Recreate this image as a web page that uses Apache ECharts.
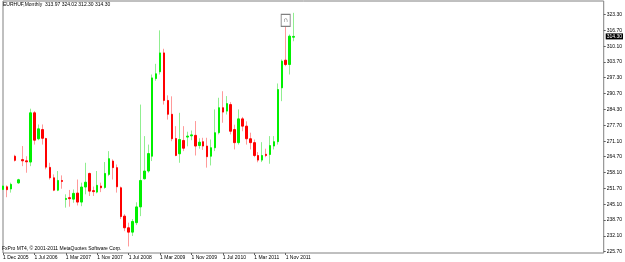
<!DOCTYPE html>
<html>
<head>
<meta charset="utf-8">
<script src="https://cdn.jsdelivr.net/npm/echarts@6/dist/echarts.min.js"></script>
<style>
html,body{margin:0;padding:0;background:#fff;}
#chart{width:625px;height:262px;}
</style>
</head>
<body>
<div id="chart"></div>
<script>
const symbolName = "EURHUF";
const periodName = "Monthly";
const copyrightText = "FxPro MT4, \u00a9 2001-2011 MetaQuotes Software Corp.";
const months = ["Nov 2005","Dec 2005","Jan 2006","Feb 2006","Mar 2006","Apr 2006","May 2006","Jun 2006","Jul 2006","Aug 2006",
"Sep 2006","Oct 2006","Nov 2006","Dec 2006","Jan 2007","Feb 2007","Mar 2007","Apr 2007","May 2007","Jun 2007",
"Jul 2007","Aug 2007","Sep 2007","Oct 2007","Nov 2007","Dec 2007","Jan 2008","Feb 2008","Mar 2008","Apr 2008",
"May 2008","Jun 2008","Jul 2008","Aug 2008","Sep 2008","Oct 2008","Nov 2008","Dec 2008","Jan 2009","Feb 2009",
"Mar 2009","Apr 2009","May 2009","Jun 2009","Jul 2009","Aug 2009","Sep 2009","Oct 2009","Nov 2009","Dec 2009",
"Jan 2010","Feb 2010","Mar 2010","Apr 2010","May 2010","Jun 2010","Jul 2010","Aug 2010","Sep 2010","Oct 2010",
"Nov 2010","Dec 2010","Jan 2011","Feb 2011","Mar 2011","Apr 2011","May 2011","Jun 2011","Jul 2011","Aug 2011",
"Sep 2011","Oct 2011","Nov 2011","Dec 2011","Jan 2012"];
const openP = [251.2,252.3,251.4,264.9,253.9,263.5,263.0,262.5,282.8,272.1,
275.9,272.2,260.3,256.0,250.9,254.9,247.1,247.8,247.2,249.7,
246.0,252.2,257.8,250.7,250.1,252.6,252.0,257.4,262.9,260.2,
251.9,240.2,235.4,233.6,237.5,244.0,255.6,258.8,264.9,296.9,
299.7,307.5,287.9,282.2,272.2,265.9,271.4,272.8,273.3,273.5,
269.3,270.9,269.1,264.9,268.4,274.6,284.9,283.5,286.2,275.9,
270.5,280.3,277.3,272.1,270.5,265.2,263.3,265.7,265.6,269.1,
270.9,293.1,304.5,302.7,313.97];
const highP = [253.1,252.9,254.0,265.5,255.6,269.1,264.9,284.5,283.5,278.0,
278.0,272.5,262.2,257.4,258.8,257.0,249.2,251.0,251.2,255.3,
254.0,262.2,258.1,252.4,258.8,254.0,262.5,267.0,263.6,261.5,
252.4,241.0,237.5,239.0,245.9,286.2,273.2,269.7,298.6,303.0,
316.8,309.2,290.0,289.6,277.3,282.8,277.3,275.0,275.5,279.4,
272.3,272.5,272.5,271.8,284.2,289.0,291.7,289.7,287.2,277.9,
284.2,281.1,279.3,274.6,271.8,266.6,270.7,268.0,273.2,273.2,
294.9,304.8,319.2,315.1,324.02];
const lowP = [250.9,248.0,249.9,262.7,253.5,260.8,258.1,260.8,269.7,271.5,
269.7,259.5,255.3,250.5,250.5,251.5,243.7,244.1,245.7,244.6,
244.3,249.2,248.5,248.5,249.6,250.1,251.5,256.7,255.3,249.9,
239.0,234.0,227.7,232.0,236.5,240.2,255.3,258.1,262.9,296.0,
298.6,286.2,280.0,271.1,264.9,262.2,267.0,269.0,271.5,265.2,
268.0,267.5,260.2,261.1,267.0,273.9,278.7,282.1,273.9,267.7,
269.7,275.2,269.7,267.7,264.5,262.4,262.5,264.5,261.8,267.7,
269.7,287.6,302.0,298.6,312.30];
const closeP = [252.6,251.1,253.3,263.2,255.2,263.0,262.6,282.8,271.5,276.2,
272.3,260.4,256.0,250.9,254.9,254.5,247.5,247.4,249.6,246.0,
252.2,254.2,250.5,250.3,252.9,251.9,257.8,263.9,260.2,252.3,
240.0,235.4,233.6,238.0,244.0,254.9,258.8,266.0,297.2,298.9,
307.5,287.9,282.2,272.1,265.2,271.8,268.2,273.2,273.7,269.1,
270.7,269.1,264.7,268.4,274.6,284.9,283.1,286.6,275.2,270.5,
280.3,277.3,272.1,270.5,265.2,263.3,265.2,265.2,269.3,270.9,
292.4,304.1,302.7,314.4,314.30];
const xTickLabels = ["1 Dec 2005","1 Jul 2006","1 Mar 2007","1 Nov 2007","1 Jul 2008","1 Mar 2009","1 Nov 2009","1 Jul 2010","1 Mar 2011","1 Nov 2011"];
const xTickEvery = 8;
const yTickLabels = ["323.30","316.70","310.10","303.70","297.30","290.70","284.30","277.70","271.10","264.70","258.10","251.70","245.10","238.70","232.10","225.70"];
const objectMonth = "Nov 2011";
const objectPrice = 320.9;

const totalSlots = 154;
const cats = months.concat(new Array(totalSlots - months.length).fill(''));
const fullData = months.map((m, i) => [openP[i], closeP[i], lowP[i], highP[i]]);
const bodyData = months.map((m, i) => [openP[i], closeP[i], Math.min(openP[i], closeP[i]), Math.max(openP[i], closeP[i])]);
const last = months.length - 1;
const fmt = v => v.toFixed(2);
const header = symbolName + "," + periodName + "  " + fmt(openP[last]) + " " + fmt(highP[last]) + " " + fmt(lowP[last]) + " " + fmt(closeP[last]);
const yTickValues = yTickLabels.map(Number);
const isTick = idx => idx % xTickEvery === 0 && idx / xTickEvery < xTickLabels.length;
const FONT = "Liberation Sans, Arial, sans-serif";

const chart = echarts.init(document.getElementById('chart'), null, {renderer: 'canvas'});
chart.setOption({
  animation: false,
  backgroundColor: '#ffffff',
  title: [
    {text: header, left: 3, top: 2, padding: 0, textStyle: {fontSize: 5, fontWeight: 'normal', color: '#000', fontFamily: FONT}},
    {text: copyrightText, left: 2, top: 246, padding: 0, textStyle: {fontSize: 5, fontWeight: 'normal', color: '#000', fontFamily: FONT}}
  ],
  grid: {left: 1, right: 19, top: 1, bottom: 9, show: true, borderColor: '#808080', borderWidth: 1, backgroundColor: '#ffffff'},
  xAxis: {
    type: 'category', data: cats, boundaryGap: false,
    axisLine: {show: false},
    axisTick: {show: true, length: 2, interval: isTick, lineStyle: {color: '#606060'}},
    axisLabel: {show: true, interval: isTick, align: 'left', margin: 2, fontSize: 5, color: '#000', fontFamily: FONT,
      formatter: (v, idx) => isTick(idx) ? xTickLabels[idx / xTickEvery] : ''},
    splitLine: {show: false}
  },
  yAxis: {
    type: 'value', position: 'right', min: 225.0, max: 328.9, scale: true,
    axisLine: {show: false},
    axisTick: {show: true, length: 2, customValues: yTickValues, lineStyle: {color: '#606060'}},
    axisLabel: {show: true, customValues: yTickValues, margin: 3, fontSize: 5, color: '#000', fontFamily: FONT,
      formatter: v => { const k = yTickValues.indexOf(v); return k >= 0 ? yTickLabels[k] : ''; }},
    splitLine: {show: false}
  },
  series: [
    {
      name: 'wick', type: 'candlestick', data: fullData, barWidth: 1, clip: true,
      itemStyle: {color: '#90ee90', color0: '#ff9a9a', borderColor: '#90ee90', borderColor0: '#ff9a9a', borderWidth: 1},
      markPoint: {
        silent: true,
        data: [{coord: [objectMonth, objectPrice], symbol: 'rect', symbolSize: [9, 12],
          itemStyle: {color: '#ffffff', borderColor: '#808080', borderWidth: 1},
          label: {show: true, position: 'inside', formatter: '\u2229', color: '#404040', fontSize: 7}}]
      }
    },
    {
      name: 'body', type: 'candlestick', data: bodyData, barWidth: 2, clip: true,
      itemStyle: {color: '#00f000', color0: '#ff0000', borderColor: '#00f000', borderColor0: '#ff0000', borderWidth: 1},
      markLine: {
        silent: true, symbol: 'none',
        lineStyle: {color: 'transparent', width: 0},
        data: [{yAxis: closeP[last]}],
        label: {show: true, position: 'end', distance: 2, formatter: p => fmt(p.value),
          backgroundColor: '#000', color: '#fff', fontSize: 5, fontFamily: FONT, padding: [1, 1, 0, 1]}
      }
    }
  ]
});
</script>
</body>
</html>
